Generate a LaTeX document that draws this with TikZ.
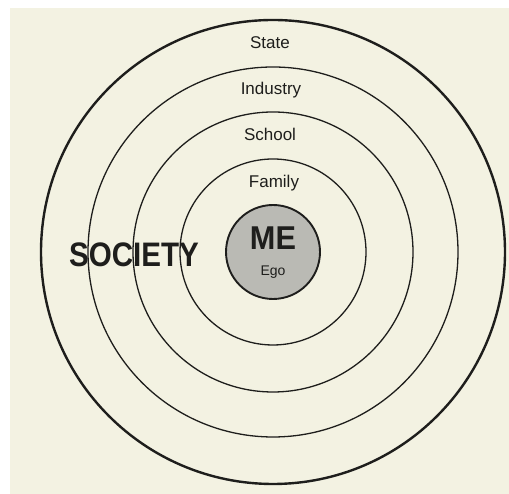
\documentclass[tikz,border=0pt]{standalone}
\usepackage{fontspec}
\setmainfont{Liberation Sans}
\definecolor{paper}{RGB}{243,242,226}
\definecolor{ink}{RGB}{30,30,28}
\definecolor{egofill}{RGB}{186,186,180}
\begin{document}
\begin{tikzpicture}[x=1pt,y=1pt,
  ring/.style={draw=ink,line width=1.3pt},
  outerring/.style={draw=ink,line width=2.4pt},
  lbl/.style={text=ink,font=\fontsize{17}{19}\selectfont,anchor=base,inner sep=0pt}]
\useasboundingbox (0,0) rectangle (509,494);
\fill[white] (0,0) rectangle (509,494);
\fill[paper] (10,0) rectangle (509,486);
\coordinate (c) at (273,242);
\draw[outerring] (c) circle[radius=232];
\draw[ring] (c) circle[radius=185];
\draw[ring] (c) circle[radius=140];
\draw[ring] (c) circle[radius=93];
\draw[draw=ink,line width=1.9pt,fill=egofill] (c) circle[radius=47];
\node[lbl] (state) at (270,445) {State};
\node[lbl] (industry) at (271,399) {Industry};
\node[lbl] (school) at (270,353) {School};
\node[lbl] (family) at (274,306) {Family};
\node[lbl,font=\bfseries\fontsize{33}{35}\selectfont] (me) at (273,244) {\scalebox{0.93}[1]{ME}};
\node[lbl,font=\fontsize{14}{16}\selectfont] (ego) at (273,218) {Ego};
\node[lbl,font=\bfseries\fontsize{34}{36}\selectfont] (society) at (134,227) {\scalebox{0.87}[1]{SOCIETY}};
\end{tikzpicture}
\end{document}
